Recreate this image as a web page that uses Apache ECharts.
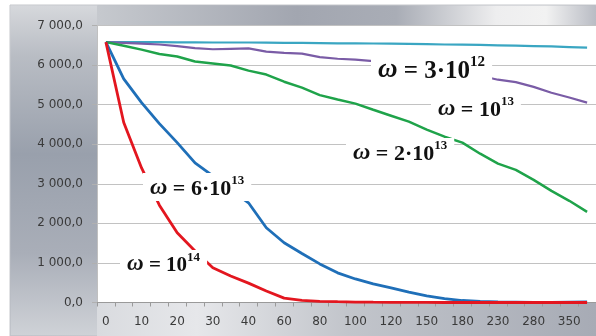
<!DOCTYPE html>
<html>
<head>
<meta charset="utf-8">
<script src="https://cdn.jsdelivr.net/npm/echarts@6/dist/echarts.min.js"></script>
<style>
  html, body { margin: 0; padding: 0; background: #fff; }
  #chart { width: 596px; height: 336px; }
</style>
</head>
<body>
<div id="chart"></div>
<script>
// Categories (x axis) – every other one is labelled
var categories = ['0','5','10','15','20','25','30','35','40','50','60','70','80','90','100','110','120','135','150','165','180','205','230','255','280','315','350','385'];

// Series values
var omega1e14 = [6580, 4550, 3400, 2460, 1760, 1300, 880, 670, 490, 290, 110, 55, 30, 20, 12, 8, 5, 3, 2, 0, 0, 0, 0, 0, 0, 0, 0, 0];
var omega6e13 = [6580, 5650, 5050, 4520, 4040, 3530, 3200, 2850, 2520, 1890, 1510, 1240, 975, 750, 595, 470, 370, 265, 165, 100, 50, 25, 15, 10, 5, 5, 10, 15];
var omega2e13 = [6580, 6490, 6390, 6280, 6215, 6090, 6040, 5990, 5860, 5760, 5580, 5430, 5240, 5130, 5025, 4870, 4720, 4570, 4370, 4190, 4040, 3760, 3510, 3350, 3100, 2820, 2570, 2290];
var omega1e13 = [6580, 6560, 6540, 6520, 6480, 6430, 6400, 6410, 6420, 6340, 6310, 6290, 6200, 6160, 6140, 6100, 6060, 5990, 5910, 5840, 5780, 5730, 5630, 5570, 5450, 5300, 5180, 5050];
var omega3e12 = [6580, 6580, 6580, 6580, 6575, 6575, 6570, 6570, 6570, 6565, 6560, 6560, 6555, 6550, 6550, 6545, 6540, 6535, 6530, 6520, 6515, 6510, 6500, 6490, 6480, 6470, 6455, 6440];

// Y tick values
var yTicks = [0, 1000, 2000, 3000, 4000, 5000, 6000, 7000];

function fmtY(v) {
  var s;
  if (v >= 1000) {
    var th = Math.floor(v / 1000);
    var rest = String(v % 1000);
    while (rest.length < 3) rest = '0' + rest;
    s = th + ' ' + rest;
  } else {
    s = String(v);
  }
  return s + ',0';
}

var chart = echarts.init(document.getElementById('chart'), null, { renderer: 'canvas' });

function lin(x, y, x2, y2, stops) {
  return new echarts.graphic.LinearGradient(x, y, x2, y2, stops.map(function (s) { return { offset: s[0], color: s[1] }; }));
}

function label(text, sup, size, supSize) {
  return {
    text: '{w|\u03C9}{n| = ' + text + '}{s|' + sup + '}',
    rich: {
      w: { fontFamily: 'Liberation Serif', fontWeight: 'bold', fontStyle: 'italic', fontSize: size + 2, lineHeight: size + 4, verticalAlign: 'bottom', fill: '#111' },
      n: { fontFamily: 'Liberation Serif', fontWeight: 'bold', fontSize: size, lineHeight: size + 4, verticalAlign: 'bottom', fill: '#111' },
      s: { fontFamily: 'Liberation Serif', fontWeight: 'bold', fontSize: supSize, lineHeight: supSize, verticalAlign: 'top', fill: '#111' }
    },
    backgroundColor: '#fff',
    padding: [1, 7, 1, 7]
  };
}

var option = {
  backgroundColor: '#fff',
  animation: false,
  grid: { left: 97, right: 0, top: 25.5, bottom: 33.5, show: true, backgroundColor: '#fff', borderWidth: 0 },
  graphic: [
    { type: 'rect', z: -100, shape: { x: 10, y: 5, width: 586, height: 331 },
      style: { fill: lin(0, 0, 1, 1, [[0, '#d4d6db'], [0.25, '#a4a9b4'], [0.5, '#c6c9cf'], [0.75, '#b0b4bd'], [1, '#a6aab4']]), stroke: '#c4c6ca', lineWidth: 1 } },
    { type: 'rect', z: -99, shape: { x: 10.5, y: 5.5, width: 87, height: 330 },
      style: { fill: lin(0, 0, 0, 1, [[0, '#d6d8dc'], [0.15, '#b9bdc4'], [0.45, '#99a0ac'], [0.75, '#a9aeb8'], [1, '#cfd2d7']]) } },
    { type: 'rect', z: -99, shape: { x: 97, y: 5.5, width: 499, height: 21 },
      style: { fill: lin(0, 0, 1, 0, [[0, '#c6c9ce'], [0.4, '#a2a6b0'], [0.6, '#a9adb6'], [0.8, '#eeeeef'], [0.9, '#f2f2f2'], [1, '#b9bcc4']]) } },
    { type: 'rect', z: -99, shape: { x: 97, y: 303, width: 499, height: 33 },
      style: { fill: lin(0, 0, 1, 0, [[0, '#d9dbdf'], [0.2, '#e6e7ea'], [0.5, '#c2c5cb'], [1, '#a7abb5']]) } },

    { type: 'text', z: 100, left: 371, top: 54, style: label('3\u00B710', '12', 25, 15) },
    { type: 'text', z: 100, left: 431, top: 94, style: label('10', '13', 22, 13) },
    { type: 'text', z: 100, left: 346, top: 138, style: label('2\u00B710', '13', 22, 13) },
    { type: 'text', z: 100, left: 143, top: 173, style: label('6\u00B710', '13', 22, 13) },
    { type: 'text', z: 100, left: 120, top: 250, style: label('10', '14', 21, 13) }
  ],
  xAxis: {
    type: 'category',
    data: categories,
    boundaryGap: true,
    axisLine: { show: true, lineStyle: { color: '#9a9a9a', width: 1 } },
    axisTick: { show: true, interval: 0, length: 4, inside: false, lineStyle: { color: '#9a9a9a' } },
    axisLabel: { interval: 1, margin: 13, color: '#3a3a3a', fontFamily: 'DejaVu Sans', fontSize: 12 },
    splitLine: { show: false }
  },
  yAxis: {
    type: 'value',
    min: 0, max: 7000, interval: 1000,
    axisLine: { show: true, lineStyle: { color: '#c0c0c0', width: 1 } },
    axisTick: { show: true, length: 5, lineStyle: { color: '#b0b0b0' } },
    axisLabel: { margin: 14, color: '#3a3a3a', fontFamily: 'DejaVu Sans', fontSize: 12, formatter: fmtY },
    splitLine: { show: true, lineStyle: { color: '#c2c2c2', width: 1 } }
  },
  series: [
    { name: 'w=3e12', type: 'line', data: omega3e12, symbol: 'none', lineStyle: { color: '#3aa6c2', width: 2.2 }, z: 2 },
    { name: 'w=1e13', type: 'line', data: omega1e13, symbol: 'none', lineStyle: { color: '#7a5ca6', width: 2.2 }, z: 2 },
    { name: 'w=2e13', type: 'line', data: omega2e13, symbol: 'none', lineStyle: { color: '#1fa34a', width: 2.5 }, z: 2 },
    { name: 'w=6e13', type: 'line', data: omega6e13, symbol: 'none', lineStyle: { color: '#1f6fb8', width: 2.8 }, z: 2 },
    { name: 'w=1e14', type: 'line', data: omega1e14, symbol: 'none', lineStyle: { color: '#e3161f', width: 2.8 }, z: 3 }
  ]
};
chart.setOption(option);
</script>
</body>
</html>
